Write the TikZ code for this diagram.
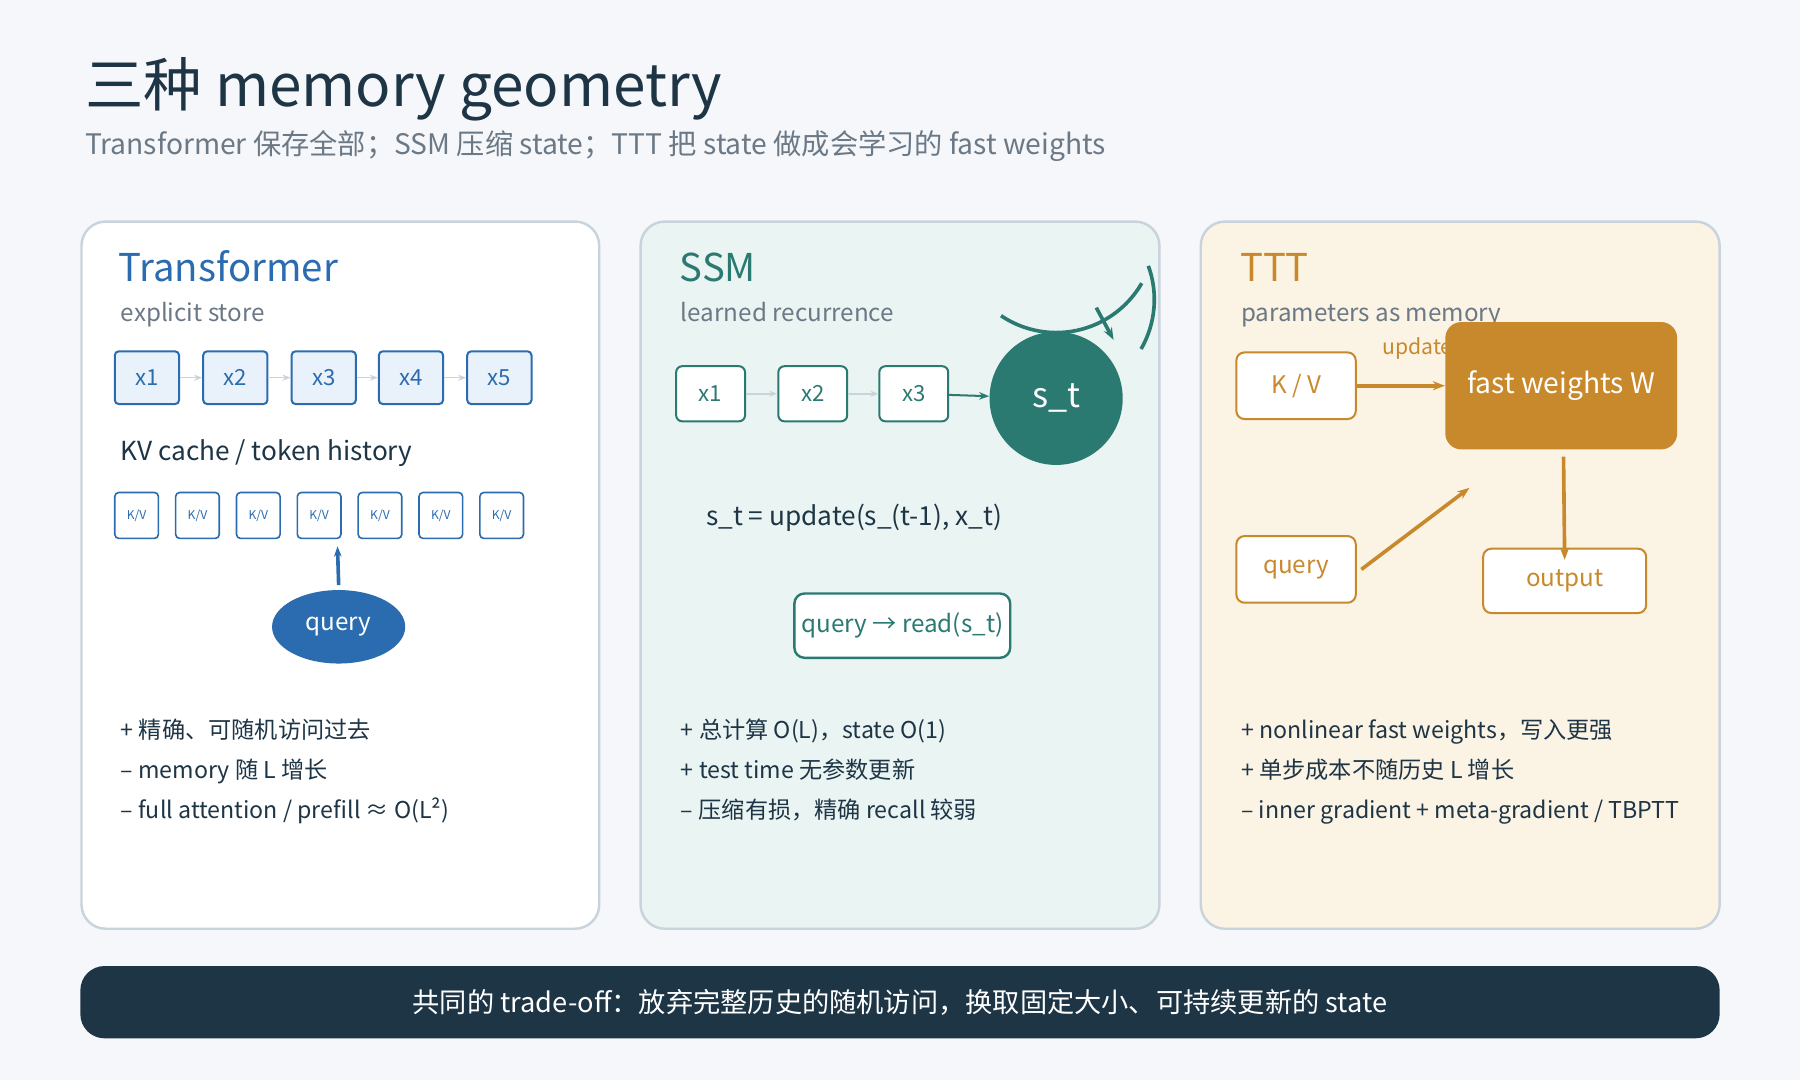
\documentclass[tikz,border=0pt]{standalone}
\usepackage{fontspec}
\setmainfont{Noto Sans CJK SC}
\usetikzlibrary{arrows.meta,shapes.geometric}
\definecolor{bg}{HTML}{F5F7FA}
\definecolor{dark}{HTML}{1E3546}
\definecolor{tblue}{HTML}{2B6CB0}
\definecolor{lblue}{HTML}{E9F1FB}
\definecolor{teal}{HTML}{2A7A72}
\definecolor{lteal}{HTML}{EAF4F2}
\definecolor{gold}{HTML}{C8892C}
\definecolor{lgold}{HTML}{FBF3E4}
\definecolor{pborder}{HTML}{C9D3DC}
\definecolor{gtext}{HTML}{6B7885}
\begin{document}
\begin{tikzpicture}[x=0.02cm,y=-0.02cm,
 panel/.style={draw=pborder,line width=1.2pt,rounded corners=12pt},
 ptitle/.style={anchor=base west,font=\fontsize{19}{19}\selectfont},
 psub/.style={anchor=base west,text=gtext,font=\fontsize{12}{12}\selectfont},
 bullet/.style={anchor=base west,text=dark,font=\fontsize{11.5}{12}\selectfont},
 xb/.style={draw=tblue,fill=lblue,line width=1pt,rounded corners=2pt,minimum width=56*0.02cm,minimum height=46*0.02cm,text=tblue,font=\fontsize{11}{11}\selectfont},
 kv/.style={draw=tblue,fill=white,line width=0.8pt,rounded corners=2pt,minimum width=38*0.02cm,minimum height=40*0.02cm,text=tblue,font=\fontsize{6}{6}\selectfont},
 sx/.style={draw=teal,fill=white,line width=1pt,rounded corners=3pt,minimum width=60*0.02cm,minimum height=48*0.02cm,text=teal,font=\fontsize{11}{11}\selectfont},
 gb/.style={draw=gold,fill=white,line width=1pt,rounded corners=4pt,text=gold,font=\fontsize{12}{12}\selectfont},
 garr/.style={-{Stealth[length=4pt]},draw=pborder,line width=0.8pt},
]
\fill[bg] (0,0) rectangle (1568,941);
\useasboundingbox (0,0) rectangle (1568,941);
\node[anchor=base west,text=dark,font=\fontsize{29}{29}\selectfont] (title) at (68,93) {三种 memory geometry};
\node[anchor=base west,text=gtext,font=\fontsize{14}{14}\selectfont] (sub) at (68,135) {Transformer 保存全部；SSM 压缩 state；TTT 把 state 做成会学习的 fast weights};
% panels
\draw[panel,fill=white] (71,193) rectangle (522,809);
\draw[panel,fill=lteal] (558,193) rectangle (1010,809);
\draw[panel,fill=lgold] (1046,193) rectangle (1498,809);
% Transformer
\node[ptitle,text=tblue] (tt) at (97,245) {Transformer};
\node[psub] (ts) at (99,280) {explicit store};
\foreach \i/\x in {1/128,2/205,3/282,4/358,5/435}{\node[xb] (tx\i) at (\x,329) {x\i};}
\foreach \a/\b in {1/2,2/3,3/4,4/5}{\draw[garr] (tx\a) -- (tx\b);}
\node[anchor=base west,text=dark,font=\fontsize{13}{13}\selectfont] (kvc) at (99,401) {KV cache / token history};
\foreach \i/\x in {1/119,2/172,3/225,4/278,5/331,6/384,7/437}{\node[kv] (kv\i) at (\x,449) {K/V};}
\node[ellipse,fill=tblue,minimum width=116*0.02cm,minimum height=64*0.02cm,text=white,font=\fontsize{12}{12}\selectfont] (tq) at (295,546) {query};
\draw[-{Stealth[length=5pt]},tblue,line width=1.8pt] (tq.north) ++(0,-4) -- (294,476) coordinate (tqend);
\node[bullet] (tb1) at (99,643) {+ 精确、可随机访问过去};
\node[bullet] (tb2) at (99,678) {– memory 随 L 增长};
\node[bullet] (tb3) at (99,713) {– full attention / prefill ≈ O(L²)};
% SSM
\node[ptitle,text=teal] (st) at (586,245) {SSM};
\node[psub] (ss) at (587,280) {learned recurrence};
\foreach \i/\x in {1/619,2/708,3/796}{\node[sx] (sx\i) at (\x,343) {x\i};}
\node[circle,fill=teal,minimum size=116*0.02cm,text=white,font=\fontsize{17}{17}\selectfont] (stc) at (920,347) {s\_t};
\draw[garr] (sx1) -- (sx2);
\draw[garr] (sx2) -- (sx3);
\draw[-{Stealth[length=5pt]},teal,line width=1pt] (sx3) -- (stc);
\draw[teal,line width=1.8pt] (stc.center) ++(-48,-72) coordinate (loopa) arc[start angle=124,end angle=30,radius=86];
\draw[teal,line width=1.8pt,-{Stealth[length=6pt]}] (955,268) -- (970,296);
\draw[teal,line width=1.8pt] (stc.center) ++(74,-43) arc[start angle=30,end angle=-20,radius=86];
\node[text=dark,font=\fontsize{13}{13}\selectfont] (eq) at (744,451) {s\_t = update(s\_(t-1), x\_t)};
\node[draw=teal,fill=white,line width=1.2pt,rounded corners=5pt,minimum width=188*0.02cm,minimum height=56*0.02cm,text=teal,inner sep=0pt,font=\fontsize{12}{12}\selectfont] (sq) at (786,545) {query → read(s\_t)};
\node[bullet] (sb1) at (587,643) {+ 总计算 O(L)，state O(1)};
\node[bullet] (sb2) at (587,678) {+ test time 无参数更新};
\node[bullet] (sb3) at (587,713) {– 压缩有损，精确 recall 较弱};
% TTT
\node[ptitle,text=gold] (ttt) at (1074,245) {TTT};
\node[psub] (tts) at (1075,280) {parameters as memory};
\node[anchor=base west,text=gold,font=\fontsize{10.5}{11}\selectfont] (upd) at (1198,309) {update};
\node[gb,minimum width=104*0.02cm,minimum height=58*0.02cm] (gkv) at (1129,336) {K / V};
\node[fill=gold,rounded corners=8pt,minimum width=202*0.02cm,minimum height=111*0.02cm,text=white,font=\fontsize{14}{14}\selectfont] (fw) at (1360,336) {fast weights W};
\node[gb,minimum width=104*0.02cm,minimum height=58*0.02cm] (gq) at (1129,496) {query};
\node[gb,minimum width=142*0.02cm,minimum height=56*0.02cm] (go) at (1363,506) {output};
\draw[-{Stealth[length=6pt]},gold,line width=1.8pt] (gkv) -- (fw);
\draw[-{Stealth[length=6pt]},gold,line width=1.8pt] (gq.east) ++(4,0) -- (1280,425) coordinate (qend);
\draw[-{Stealth[length=6pt]},gold,line width=1.8pt] (fw.south) ++(2,6) -- ([xshift=0pt,yshift=-6]go.north);
\node[bullet] (gb1) at (1075,643) {+ nonlinear fast weights，写入更强};
\node[bullet] (gb2) at (1075,678) {+ 单步成本不随历史 L 增长};
\node[bullet] (gb3) at (1075,713) {– inner gradient + meta-gradient / TBPTT};
% bottom bar
\node[fill=dark,rounded corners=12pt,minimum width=1428*0.02cm,minimum height=63*0.02cm,text=white,font=\fontsize{13.5}{14}\selectfont] (bar) at (784,873) {共同的 trade-off：放弃完整历史的随机访问，换取固定大小、可持续更新的 state};
\end{tikzpicture}
\end{document}
